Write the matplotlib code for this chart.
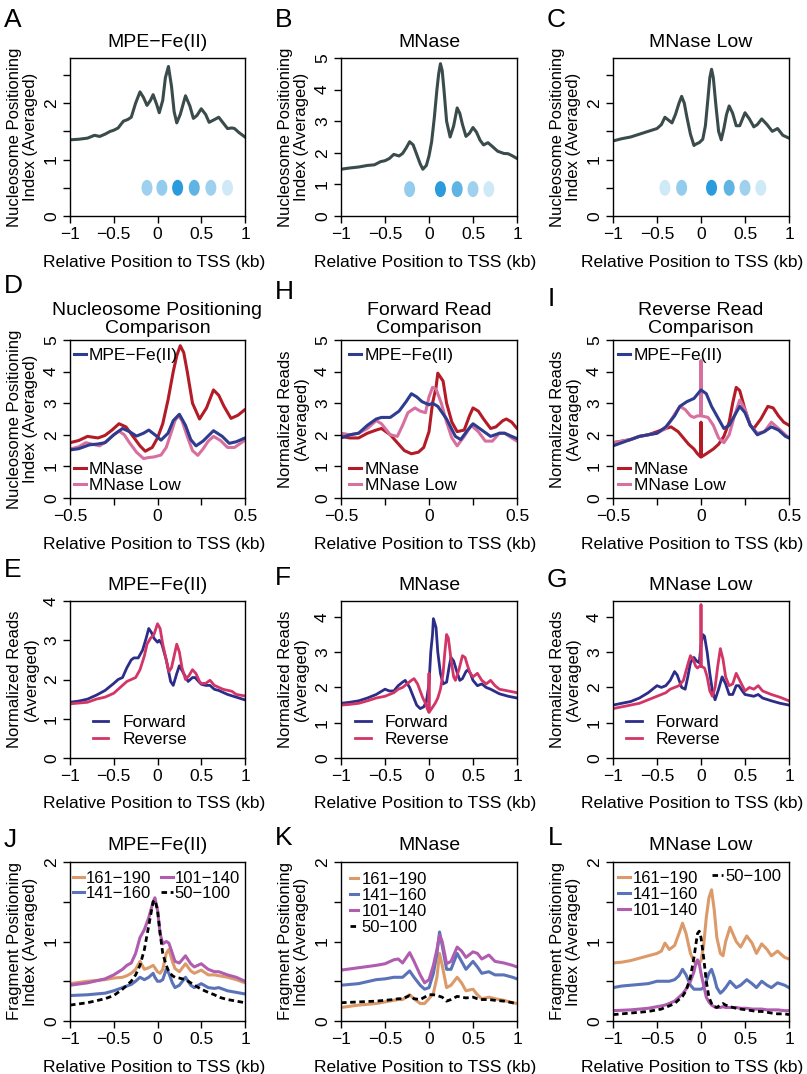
import numpy as np
import matplotlib.pyplot as plt
from matplotlib.patches import Ellipse

plt.rcParams['font.family'] = ['Liberation Sans', 'DejaVu Sans']

W, H = 807, 1074

#### Nucleosome positioning index (A, B, C and D)
mpe_x = [-1, -0.9, -0.8, -0.72, -0.66, -0.6, -0.54, -0.5, -0.45, -0.39, -0.34, -0.3, -0.25, -0.2, -0.16, -0.12,
         -0.08, -0.05, -0.01, 0.02, 0.06, 0.09, 0.125, 0.16, 0.19, 0.22, 0.26, 0.32, 0.37, 0.41, 0.45, 0.5, 0.55,
         0.59, 0.64, 0.7, 0.75, 0.8, 0.85, 0.88, 0.93, 1.0]
mpe_y = [1.35, 1.36, 1.38, 1.43, 1.41, 1.45, 1.5, 1.52, 1.56, 1.68, 1.71, 1.75, 2.0, 2.2, 2.1, 1.96,
         2.05, 2.15, 1.98, 1.83, 2.05, 2.45, 2.65, 2.3, 1.85, 1.65, 1.8, 2.13, 1.95, 1.73, 1.78, 1.9, 1.8,
         1.66, 1.7, 1.75, 1.65, 1.55, 1.56, 1.55, 1.48, 1.4]

mn_x = [-1, -0.9, -0.8, -0.7, -0.62, -0.55, -0.5, -0.45, -0.4, -0.34, -0.3, -0.26, -0.22, -0.18, -0.14, -0.1,
        -0.07, -0.03, 0.0, 0.03, 0.06, 0.09, 0.11, 0.13, 0.15, 0.17, 0.2, 0.24, 0.28, 0.32, 0.35, 0.38, 0.42,
        0.46, 0.5, 0.54, 0.58, 0.62, 0.67, 0.72, 0.78, 0.85, 0.9, 0.95, 1.0]
mn_y = [1.48, 1.52, 1.55, 1.6, 1.62, 1.72, 1.75, 1.82, 1.95, 1.9, 1.98, 2.15, 2.35, 2.25, 1.95, 1.65,
        1.48, 1.6, 1.9, 2.35, 3.1, 4.0, 4.5, 4.82, 4.6, 4.0, 3.0, 2.5, 2.85, 3.42, 3.25, 2.9, 2.52,
        2.62, 2.8, 2.65, 2.4, 2.25, 2.32, 2.2, 2.05, 1.98, 1.97, 1.9, 1.82]

mnl_x = [-1, -0.9, -0.8, -0.7, -0.6, -0.5, -0.45, -0.41, -0.37, -0.33, -0.29, -0.25, -0.22, -0.19, -0.16, -0.12,
         -0.08, -0.05, -0.02, 0.02, 0.05, 0.08, 0.1, 0.12, 0.14, 0.17, 0.2, 0.23, 0.26, 0.29, 0.32, 0.36, 0.4,
         0.44, 0.5, 0.55, 0.6, 0.64, 0.69, 0.75, 0.81, 0.87, 0.93, 1.0]
mnl_y = [1.33, 1.37, 1.4, 1.45, 1.5, 1.55, 1.62, 1.75, 1.7, 1.65, 1.8, 2.0, 2.12, 2.0, 1.75, 1.45,
         1.25, 1.28, 1.3, 1.36, 1.6, 2.1, 2.45, 2.6, 2.45, 1.95, 1.5, 1.35, 1.55, 1.8, 1.95, 1.82, 1.6,
         1.6, 1.83, 1.72, 1.58, 1.62, 1.72, 1.62, 1.5, 1.55, 1.43, 1.38]

# nucleosome dots (centre x, shade)
dots_a_x = [-0.12, 0.05, 0.23, 0.42, 0.61, 0.80]
dots_a_alpha = [0.45, 0.5, 1.0, 0.75, 0.45, 0.22]
dots_b_x = [-0.22, 0.13, 0.32, 0.5, 0.68]
dots_b_alpha = [0.5, 1.0, 0.75, 0.45, 0.22]
dots_c_x = [-0.41, -0.22, 0.12, 0.32, 0.5, 0.68]
dots_c_alpha = [0.22, 0.5, 1.0, 0.75, 0.45, 0.22]

#### Normalized reads, forward / reverse (E-I)
mpe_fwd_x = [-1, -0.9, -0.8, -0.7, -0.6, -0.5, -0.45, -0.4, -0.35, -0.3, -0.27, -0.22, -0.17, -0.13, -0.1, -0.07,
             -0.04, 0.0, 0.02, 0.05, 0.1, 0.15, 0.18, 0.22, 0.25, 0.3, 0.35, 0.4, 0.43, 0.47, 0.5, 0.55, 0.6,
             0.65, 0.7, 0.8, 0.9, 1.0]
mpe_fwd_y = [1.42, 1.45, 1.5, 1.6, 1.72, 1.9, 2.0, 2.05, 2.3, 2.5, 2.55, 2.55, 2.75, 3.05, 3.3, 3.2,
             3.05, 2.95, 3.0, 2.9, 2.5, 1.95, 1.85, 2.15, 2.35, 2.15, 1.95, 2.05, 2.05, 1.95, 1.88, 1.85, 1.85,
             1.75, 1.72, 1.62, 1.55, 1.48]
mpe_rev_x = [-1, -0.9, -0.8, -0.7, -0.6, -0.5, -0.45, -0.4, -0.35, -0.3, -0.25, -0.2, -0.15, -0.12, -0.08, -0.04,
             0.0, 0.03, 0.06, 0.1, 0.13, 0.16, 0.2, 0.22, 0.25, 0.28, 0.32, 0.36, 0.4, 0.44, 0.48, 0.5, 0.55,
             0.6, 0.65, 0.7, 0.75, 0.85, 0.9, 1.0]
mpe_rev_y = [1.38, 1.4, 1.42, 1.5, 1.55, 1.65, 1.75, 1.85, 1.95, 2.0, 2.05, 2.25, 2.6, 2.9, 3.05, 3.15,
             3.42, 3.3, 2.9, 2.5, 2.2, 2.3, 2.7, 2.9, 2.7, 2.3, 2.0, 2.1, 2.25, 2.15, 1.95, 1.9, 1.9,
             1.98, 1.85, 1.8, 1.75, 1.7, 1.62, 1.58]
mn_fwd_x = [-1, -0.9, -0.8, -0.7, -0.6, -0.5, -0.45, -0.4, -0.35, -0.3, -0.27, -0.22, -0.18, -0.14, -0.1, -0.06,
            -0.03, 0.0, 0.02, 0.04, 0.05, 0.08, 0.1, 0.13, 0.16, 0.2, 0.23, 0.25, 0.28, 0.31, 0.35, 0.38, 0.42,
            0.44, 0.47, 0.5, 0.55, 0.6, 0.65, 0.7, 0.8, 0.9, 1.0]
mn_fwd_y = [1.55, 1.58, 1.62, 1.7, 1.8, 1.95, 1.9, 1.9, 2.05, 2.15, 2.2, 2.0, 1.75, 1.5, 1.4, 1.45,
            1.6, 2.1, 3.0, 3.5, 3.95, 3.7, 3.0, 2.4, 2.1, 2.15, 2.6, 2.85, 2.75, 2.5, 2.2, 2.25, 2.45,
            2.5, 2.4, 2.2, 2.05, 2.1, 2.0, 1.95, 1.82, 1.75, 1.7]
mn_rev_x = [-1, -0.9, -0.8, -0.7, -0.6, -0.5, -0.45, -0.4, -0.35, -0.3, -0.25, -0.2, -0.17, -0.13, -0.1, -0.07,
            -0.04, -0.02, -0.002, 0.0, 0.002, 0.03, 0.07, 0.1, 0.13, 0.16, 0.18, 0.2, 0.22, 0.25, 0.28, 0.3,
            0.34, 0.38, 0.41, 0.44, 0.47, 0.5, 0.55, 0.6, 0.65, 0.7, 0.75, 0.8, 0.9, 1.0]
mn_rev_y = [1.5, 1.52, 1.55, 1.62, 1.7, 1.75, 1.8, 1.85, 1.95, 2.0, 2.1, 2.2, 2.25, 2.1, 1.9, 1.7,
            1.55, 1.4, 1.3, 2.4, 1.3, 1.4, 1.55, 1.7, 1.95, 2.4, 3.0, 3.5, 3.4, 2.8, 2.3, 2.2,
            2.5, 2.9, 2.85, 2.6, 2.4, 2.3, 2.4, 2.2, 2.1, 2.2, 2.05, 1.95, 1.9, 1.85]
mnl_fwd_x = [-1, -0.9, -0.8, -0.7, -0.6, -0.5, -0.45, -0.4, -0.35, -0.3, -0.27, -0.22, -0.18, -0.15, -0.12, -0.08,
             -0.05, -0.02, 0.0, 0.02, 0.04, 0.07, 0.1, 0.13, 0.16, 0.2, 0.24, 0.28, 0.32, 0.36, 0.4, 0.43, 0.47,
             0.5, 0.6, 0.65, 0.7, 0.8, 0.9, 1.0]
mnl_fwd_y = [1.5, 1.55, 1.6, 1.7, 1.85, 2.05, 2.0, 2.05, 2.2, 2.45, 2.35, 2.0, 1.95, 2.3, 2.7, 2.85,
             2.75, 2.7, 3.2, 3.5, 3.45, 3.0, 2.4, 1.9, 1.65, 1.95, 2.3, 2.1, 1.8, 1.8, 2.05, 2.05, 1.9,
             1.8, 1.75, 1.8, 1.7, 1.62, 1.55, 1.5]
mnl_rev_x = [-1, -0.9, -0.8, -0.7, -0.6, -0.5, -0.45, -0.4, -0.35, -0.3, -0.25, -0.2, -0.15, -0.12, -0.09, -0.06,
             -0.04, -0.02, -0.002, 0.0, 0.002, 0.04, 0.07, 0.1, 0.13, 0.16, 0.19, 0.22, 0.25, 0.28, 0.32, 0.36,
             0.4, 0.44, 0.48, 0.5, 0.55, 0.6, 0.65, 0.7, 0.8, 0.9, 1.0]
mnl_rev_y = [1.4, 1.45, 1.5, 1.55, 1.65, 1.75, 1.8, 1.85, 1.95, 2.0, 2.05, 2.2, 2.65, 2.9, 2.8, 2.6,
             2.55, 2.6, 2.6, 4.35, 2.6, 2.55, 2.3, 1.9, 1.75, 2.0, 2.6, 3.1, 2.8, 2.3, 2.05, 2.1,
             2.4, 2.2, 2.0, 1.9, 2.0, 1.95, 2.05, 1.9, 1.8, 1.72, 1.62]

#### Fragment positioning index (J, K, L)
frag_labels = ['161−190', '141−160', '101−140', '50−100']
j_x = [-1, -0.8, -0.6, -0.5, -0.4, -0.35, -0.3, -0.25, -0.2, -0.15, -0.1, -0.05, -0.03, 0.0, 0.03, 0.06,
       0.1, 0.13, 0.17, 0.2, 0.25, 0.32, 0.38, 0.42, 0.5, 0.58, 0.65, 0.7, 0.8, 0.9, 1.0]
j_161 = [0.47, 0.5, 0.52, 0.54, 0.55, 0.57, 0.6, 0.65, 0.75, 0.65, 0.67, 0.7, 0.67, 0.62, 0.6, 0.65,
         0.85, 0.9, 0.75, 0.66, 0.62, 0.72, 0.63, 0.6, 0.64, 0.58, 0.58, 0.57, 0.55, 0.52, 0.48]
j_141 = [0.32, 0.33, 0.35, 0.38, 0.42, 0.44, 0.46, 0.5, 0.55, 0.52, 0.55, 0.6, 0.55, 0.5, 0.5, 0.52,
         0.65, 0.6, 0.48, 0.42, 0.45, 0.55, 0.45, 0.42, 0.47, 0.42, 0.41, 0.42, 0.38, 0.36, 0.34]
j_101 = [0.45, 0.48, 0.53, 0.58, 0.65, 0.7, 0.73, 0.85, 1.05, 1.15, 1.3, 1.5, 1.55, 1.4, 1.1, 0.97,
         1.0, 0.98, 0.85, 0.75, 0.73, 0.82, 0.72, 0.68, 0.72, 0.65, 0.62, 0.62, 0.58, 0.55, 0.5]
j_50 = [0.2, 0.23, 0.28, 0.32, 0.4, 0.45, 0.5, 0.58, 0.7, 0.9, 1.2, 1.5, 1.52, 1.4, 1.1, 0.85,
        0.7, 0.62, 0.57, 0.55, 0.54, 0.52, 0.48, 0.45, 0.4, 0.36, 0.33, 0.3, 0.27, 0.25, 0.23]

k_x = [-1, -0.8, -0.6, -0.5, -0.4, -0.35, -0.3, -0.22, -0.17, -0.1, -0.05, 0.0, 0.05, 0.09, 0.12, 0.15,
       0.2, 0.25, 0.32, 0.37, 0.42, 0.5, 0.55, 0.6, 0.68, 0.75, 0.85, 0.95, 1.0]
k_161 = [0.17, 0.2, 0.22, 0.24, 0.26, 0.27, 0.27, 0.33, 0.28, 0.22, 0.22, 0.28, 0.35, 0.55, 0.85, 0.7,
         0.42, 0.45, 0.55, 0.48, 0.38, 0.4, 0.33, 0.28, 0.3, 0.28, 0.26, 0.23, 0.22]
k_141 = [0.45, 0.47, 0.52, 0.53, 0.55, 0.55, 0.55, 0.63, 0.55, 0.45, 0.4, 0.42, 0.6, 0.85, 1.12, 0.95,
         0.65, 0.65, 0.85, 0.75, 0.65, 0.75, 0.68, 0.6, 0.62, 0.58, 0.58, 0.55, 0.53]
k_101 = [0.64, 0.67, 0.7, 0.72, 0.77, 0.78, 0.73, 0.86, 0.75, 0.58, 0.48, 0.52, 0.7, 0.9, 1.08, 1.0,
         0.72, 0.75, 0.93, 0.88, 0.8, 0.87, 0.85, 0.78, 0.83, 0.75, 0.73, 0.7, 0.68]
k_50 = [0.23, 0.24, 0.25, 0.26, 0.27, 0.28, 0.28, 0.32, 0.28, 0.27, 0.3, 0.33, 0.33, 0.32, 0.31, 0.3,
        0.25, 0.27, 0.31, 0.3, 0.29, 0.3, 0.28, 0.27, 0.27, 0.26, 0.25, 0.23, 0.21]

l_x = [-1, -0.9, -0.8, -0.7, -0.6, -0.5, -0.45, -0.41, -0.36, -0.3, -0.25, -0.21, -0.17, -0.12, -0.08, -0.06,
       -0.04, -0.02, 0.0, 0.03, 0.06, 0.09, 0.12, 0.15, 0.18, 0.22, 0.25, 0.28, 0.33, 0.4, 0.45, 0.52, 0.58,
       0.63, 0.69, 0.75, 0.8, 0.87, 0.95, 1.0]
l_161 = [0.73, 0.74, 0.76, 0.79, 0.82, 0.85, 0.88, 0.98, 0.9, 0.95, 1.1, 1.23, 1.1, 0.85, 0.75, 0.72,
         0.72, 0.73, 0.76, 0.95, 1.3, 1.55, 1.65, 1.4, 1.05, 0.85, 0.82, 1.0, 1.18, 1.0, 0.93, 1.07, 0.98,
         0.85, 0.97, 0.9, 0.82, 0.88, 0.8, 0.78]
l_141 = [0.42, 0.44, 0.45, 0.46, 0.47, 0.5, 0.5, 0.5, 0.5, 0.52, 0.57, 0.65, 0.58, 0.45, 0.4, 0.4,
         0.4, 0.4, 0.4, 0.42, 0.5, 0.6, 0.65, 0.55, 0.42, 0.35, 0.38, 0.42, 0.5, 0.42, 0.45, 0.52, 0.47,
         0.42, 0.5, 0.45, 0.42, 0.48, 0.45, 0.42]
l_101 = [0.13, 0.135, 0.14, 0.15, 0.16, 0.18, 0.19, 0.2, 0.22, 0.25, 0.3, 0.34, 0.4, 0.5, 0.62, 0.72,
         0.77, 0.72, 0.6, 0.45, 0.3, 0.24, 0.2, 0.18, 0.17, 0.17, 0.18, 0.17, 0.17, 0.17, 0.16, 0.16, 0.15,
         0.15, 0.15, 0.14, 0.14, 0.14, 0.13, 0.13]
l_50 = [0.08, 0.09, 0.1, 0.11, 0.12, 0.14, 0.15, 0.17, 0.19, 0.22, 0.27, 0.31, 0.38, 0.55, 0.8, 0.95,
        1.1, 1.13, 1.05, 0.8, 0.5, 0.3, 0.22, 0.18, 0.17, 0.2, 0.22, 0.2, 0.18, 0.16, 0.15, 0.14, 0.13,
        0.12, 0.12, 0.11, 0.1, 0.09, 0.09, 0.08]

#### colours
nuc_col = '#3a4b4b'
dot_col = '#2a9bdc'
mpe_col = '#2d3c8e'
mn_col = '#b31c26'
mnl_col = '#d8709f'
fwd_col = '#2c2d88'
rev_col = '#d33566'
frag_cols = ['#dc9a6a', '#5a72b8', '#b05db0', 'black']

full_ticks = [-1, -0.5, 0, 0.5, 1]
full_labels = ['−1', '−0.5', '0', '0.5', '1']
half_ticks = [-0.5, -0.25, 0, 0.25, 0.5]
half_labels = ['−0.5', '', '0', '', '0.5']

fig = plt.figure(figsize=(W / 100, H / 100), dpi=100)


def add_ax(l, t, r, b):
    return fig.add_axes([l / W, 1 - b / H, (r - l) / W, (b - t) / H])


def style(ax, xlim, xt, xl, ylim, yt, yl, title, pad, ylabel, xlab_x):
    ax.set_xlim(xlim)
    ax.set_ylim(ylim)
    ax.set_xticks(xt)
    ax.set_xticklabels(xl)
    ax.set_yticks(yt)
    ax.set_yticklabels(yl)
    for t in ax.get_yticklabels():
        t.set_rotation(90)
        t.set_va('center')
    ax.tick_params(direction='out', length=5, width=1, labelsize=12.5, pad=3, color='black')
    for s in ax.spines.values():
        s.set_linewidth(1.0)
    ax.set_title(title, fontsize=14, pad=pad, linespacing=1.1)
    ax.set_xlabel('Relative Position to TSS (kb)', fontsize=12.5)
    ax.xaxis.set_label_coords(xlab_x, -0.245)
    ax.set_ylabel(ylabel, fontsize=12, linespacing=1.15)
    ax.yaxis.set_label_coords(-0.18, 0.5)


cols = [(70, 245), (341, 517), (613, 789)]
xlab_pos = [0.48, 0.477, 0.45]
nuc_ylabel = 'Nucleosome Positioning\nIndex (Averaged)'
read_ylabel = 'Normalized Reads\n(Averaged)'
frag_ylabel = 'Fragment Positioning\nIndex (Averaged)'

#### Row 1: A, B, C
row1 = [('MPE−Fe(II)', mpe_x, mpe_y, (0, 2.8), dots_a_x, dots_a_alpha, 0.5),
        ('MNase', mn_x, mn_y, (0, 5), dots_b_x, dots_b_alpha, 0.85),
        ('MNase Low', mnl_x, mnl_y, (0, 2.8), dots_c_x, dots_c_alpha, 0.5)]
for (l, r), xp, (title, x, y, ylim, dx, da, dy) in zip(cols, xlab_pos, row1):
    ax = add_ax(l, 58, r, 216)
    ax.plot(x, y, color=nuc_col, lw=2.2, solid_joinstyle='round')
    ew = 11 / ((r - l) / 2.0)
    eh = 16 / (158 / ylim[1])
    for cx, a in zip(dx, da):
        ax.add_patch(Ellipse((cx, dy), ew, eh, facecolor=dot_col, alpha=a, edgecolor='none'))
    if ylim[1] == 5:
        yt, yl = [0, 1, 2, 3, 4, 5], ['0', '1', '2', '3', '4', '5']
    else:
        yt, yl = [0, 0.5, 1, 1.5, 2, 2.5], ['0', '', '1', '', '2', '']
    style(ax, (-1, 1), full_ticks, full_labels, ylim, yt, yl, title, 8, nuc_ylabel, xp)

#### Row 2: D, H, I
ticks5 = [0, 1, 2, 3, 4, 5]
labs5 = ['0', '1', '2', '3', '4', '5']
row2 = [('Nucleosome Positioning\nComparison', (mpe_x, mpe_y), (mn_x, mn_y), (mnl_x, mnl_y), nuc_ylabel, 2.2, 0.02),
        ('Forward Read\nComparison', (mpe_fwd_x, mpe_fwd_y), (mn_fwd_x, mn_fwd_y), (mnl_fwd_x, mnl_fwd_y),
         read_ylabel, 2.2, 0.045),
        ('Reverse Read\nComparison', (mpe_rev_x, mpe_rev_y), (mn_rev_x, mn_rev_y), (mnl_rev_x, mnl_rev_y),
         read_ylabel, 2.2, 0.03)]
for (l, r), xp, (title, s_mpe, s_mn, s_mnl, ylab, lw, lx) in zip(cols, xlab_pos, row2):
    ax = add_ax(l, 340, r, 498)
    h_mn, = ax.plot(*s_mn, color=mn_col, lw=lw)
    h_mnl, = ax.plot(*s_mnl, color=mnl_col, lw=lw)
    h_mpe, = ax.plot(*s_mpe, color=mpe_col, lw=lw)
    style(ax, (-0.5, 0.5), half_ticks, half_labels, (0, 5), ticks5, labs5, title, 5, ylab, xp)
    leg1 = ax.legend([h_mpe], ['MPE−Fe(II)'], loc='center left', bbox_to_anchor=(lx, 0.9),
                     frameon=False, fontsize=12.5, handlelength=0.7, handletextpad=0.2,
                     borderpad=0, borderaxespad=0)
    ax.add_artist(leg1)
    ax.legend([h_mn, h_mnl], ['MNase', 'MNase Low'], loc='center left', bbox_to_anchor=(lx, 0.13),
              frameon=False, fontsize=12.5, handlelength=0.7, handletextpad=0.2, labelspacing=0.1,
              borderpad=0, borderaxespad=0)

#### Row 3: E, F, G
row3 = [('MPE−Fe(II)', (mpe_fwd_x, mpe_fwd_y), (mpe_rev_x, mpe_rev_y), (0, 4), 0.13),
        ('MNase', (mn_fwd_x, mn_fwd_y), (mn_rev_x, mn_rev_y), (0, 4.45), 0.08),
        ('MNase Low', (mnl_fwd_x, mnl_fwd_y), (mnl_rev_x, mnl_rev_y), (0, 4.45), 0.074)]
for (l, r), xp, (title, s_f, s_r, ylim, lx) in zip(cols, xlab_pos, row3):
    ax = add_ax(l, 601, r, 758)
    h_f, = ax.plot(*s_f, color=fwd_col, lw=2.0)
    h_r, = ax.plot(*s_r, color=rev_col, lw=2.0)
    style(ax, (-1, 1), full_ticks, full_labels, ylim, [0, 1, 2, 3, 4], ['0', '1', '2', '3', '4'],
          title, 8, read_ylabel, xp)
    ax.legend([h_f, h_r], ['Forward', 'Reverse'], loc='center left', bbox_to_anchor=(lx, 0.17),
              frameon=False, fontsize=12.5, handlelength=0.9, handletextpad=0.8, labelspacing=0.1,
              borderpad=0, borderaxespad=0)

#### Row 4: J, K, L
row4 = [('MPE−Fe(II)', j_x, [j_161, j_141, j_101, j_50]),
        ('MNase', k_x, [k_161, k_141, k_101, k_50]),
        ('MNase Low', l_x, [l_161, l_141, l_101, l_50])]
frag_axes = []
for (l, r), xp, (title, x, ys) in zip(cols, xlab_pos, row4):
    ax = add_ax(l, 862, r, 1021)
    hs = []
    for yv, c in zip(ys, frag_cols):
        if c == 'black':
            h, = ax.plot(x, yv, color=c, lw=2.0, ls=(0, (2, 1.3)))
        else:
            h, = ax.plot(x, yv, color=c, lw=2.2)
        hs.append(h)
    style(ax, (-1, 1), full_ticks, full_labels, (0, 2), [0, 0.5, 1, 1.5, 2], ['0', '', '1', '', '2'],
          title, 8.5, frag_ylabel, xp)
    frag_axes.append((ax, hs))

ax, hs = frag_axes[0]
ax.legend(hs, frag_labels, ncol=2, loc='center left', bbox_to_anchor=(0.015, 0.852), frameon=False,
          fontsize=12, handlelength=0.7, handletextpad=0.1, labelspacing=0.0, columnspacing=0.6,
          borderpad=0, borderaxespad=0)
ax, hs = frag_axes[1]
ax.legend(hs, frag_labels, loc='center left', bbox_to_anchor=(0.05, 0.74), frameon=False,
          fontsize=12, handlelength=0.5, handletextpad=0.2, labelspacing=0.05,
          borderpad=0, borderaxespad=0)
ax, hs = frag_axes[2]
leg = ax.legend(hs[:3], frag_labels[:3], loc='center left', bbox_to_anchor=(0.03, 0.797), frameon=False,
                fontsize=12, handlelength=0.7, handletextpad=0.15, labelspacing=0.05,
                borderpad=0, borderaxespad=0)
ax.add_artist(leg)
ax.legend(hs[3:], frag_labels[3:], loc='center left', bbox_to_anchor=(0.56, 0.911), frameon=False,
          fontsize=12, handlelength=0.7, handletextpad=0.15, borderpad=0, borderaxespad=0)

#### Panel letters
letters = [('A', 4, 27), ('B', 275, 27), ('C', 547, 27),
           ('D', 4, 293), ('H', 275, 299), ('I', 548, 306),
           ('E', 4, 577), ('F', 275, 585), ('G', 547, 587),
           ('J', 4, 847), ('K', 275, 845), ('L', 548, 845)]
for s, x, y in letters:
    fig.text(x / W, 1 - y / H, s, fontsize=19, va='baseline', ha='left')

fig.savefig('out.png', dpi=100)
